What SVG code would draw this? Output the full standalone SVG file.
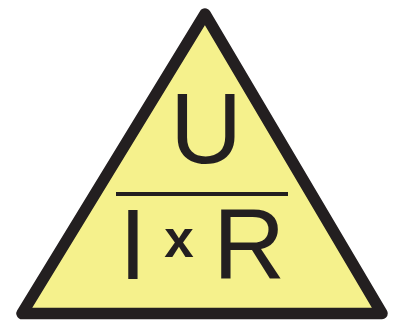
<svg xmlns="http://www.w3.org/2000/svg" width="394" height="320" viewBox="0 0 394 320">
<style>
.t{font-family:"Liberation Sans",Arial,sans-serif;fill:#231f20}
</style>
<rect width="394" height="320" fill="#ffffff"/>
<g id="triangle">
<polygon points="205,14 22,313.5 382,313.5" fill="#f5f18c" stroke="#231f20" stroke-width="11.5" stroke-linejoin="round"/>
</g>
<g id="formula">
<text class="t" x="206" y="163" font-size="100" text-anchor="middle">U</text>
<rect x="116" y="192" width="172" height="4" fill="#231f20"/>
<text class="t" x="119" y="279" font-size="100">I</text>
<text class="t" x="179" y="257" font-size="53" font-weight="bold" text-anchor="middle">x</text>
<text class="t" x="213" y="279" font-size="100">R</text>
</g>
</svg>
